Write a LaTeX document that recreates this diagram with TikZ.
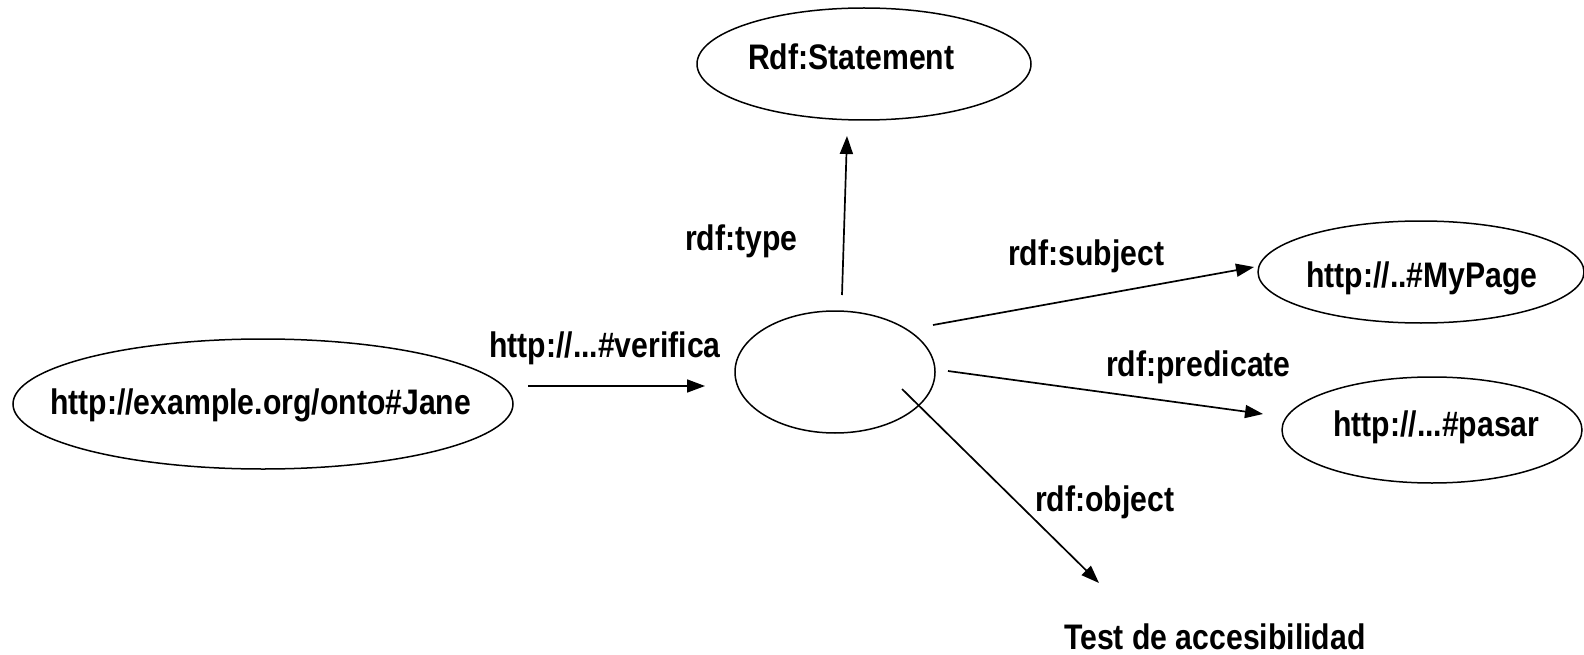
\documentclass[tikz,border=0pt]{standalone}
\usepackage{fontspec}
\setmainfont{Liberation Sans}[FakeStretch=0.85]
\usetikzlibrary{shapes.geometric,arrows.meta}
\begin{document}
\begin{tikzpicture}[x=1pt,y=-1pt,
  ell/.style={draw,ellipse,line width=1.5pt,inner sep=0pt},
  lbl/.style={anchor=base west,inner sep=0pt,font=\fontsize{35.5}{42}\selectfont\bfseries},
  arr/.style={line width=1.7pt,-{Triangle[length=18pt,width=13pt]}}]
\clip (0,0) rectangle (1584,655);
\useasboundingbox (0,0) rectangle (1584,655);
% ellipses
\node[ell,minimum width=334pt,minimum height=112pt] (stmt) at (864,64) {};
\node[ell,minimum width=200pt,minimum height=122pt] (blank) at (835,372) {};
\node[ell,minimum width=500pt,minimum height=130pt] (jane) at (263,404) {};
\node[ell,minimum width=326pt,minimum height=102pt] (mypage) at (1421,272) {};
\node[ell,minimum width=300pt,minimum height=106pt] (pasar) at (1432,430) {};
% texts
\node[lbl] (tstmt) at (748,70) {Rdf:Statement};
\node[lbl] (tjane) at (50,414) {http://example.org/onto\#Jane};
\node[lbl] (tmypage) at (1306,287) {http://..\#MyPage};
\node[lbl] (tpasar) at (1333,436) {http://...\#pasar};
\node[lbl] (ltype) at (685,250) {rdf:type};
\node[lbl] (lverif) at (489,357) {http://...\#verifica};
\node[lbl] (lsubj) at (1008,265) {rdf:subject};
\node[lbl] (lpred) at (1106,376) {rdf:predicate};
\node[lbl] (lobj) at (1035,511) {rdf:object};
\node[lbl] (test) at (1064,649) {Test de accesibilidad};
% arrow end points
\coordinate (v1) at (528,386); \coordinate (v2) at (705,386);
\coordinate (t1) at (842,295); \coordinate (t2) at (847,136);
\coordinate (s1) at (933,325); \coordinate (s2) at (1254,267);
\coordinate (p1) at (948,371); \coordinate (p2) at (1263,414);
\coordinate (o1) at (902,389); \coordinate (o2) at (1099,583);
\draw[arr] (v1) -- (v2);
\draw[arr] (t1) -- (t2);
\draw[arr] (s1) -- (s2);
\draw[arr] (p1) -- (p2);
\draw[arr] (o1) -- (o2);
\end{tikzpicture}
\end{document}
